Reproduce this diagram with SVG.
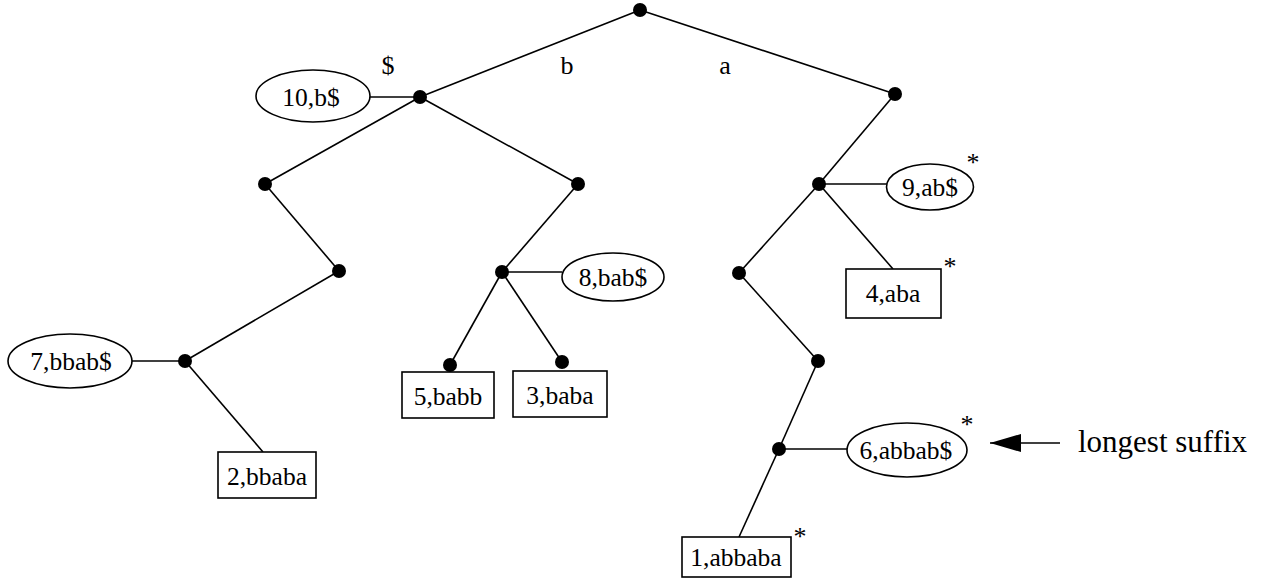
<svg xmlns="http://www.w3.org/2000/svg" width="1263" height="581" viewBox="0 0 1263 581">
<style>
.e{stroke:#000;stroke-width:1.6;fill:none}
.d{fill:#000}
.s{fill:#fff;stroke:#000;stroke-width:1.6}
.t{font-family:"Liberation Serif","Times New Roman",serif;font-size:25.5px;fill:#000;text-anchor:middle}
.a{font-family:"Liberation Serif","Times New Roman",serif;font-size:26px;fill:#000;text-anchor:middle}
.l{font-family:"Liberation Serif","Times New Roman",serif;font-size:26px;fill:#000;text-anchor:middle}
</style>
<defs>
<marker id="ah" markerWidth="32" markerHeight="18" refX="31" refY="9" orient="auto" markerUnits="userSpaceOnUse">
<path d="M0,0 L31,9 L0,18 Z" fill="#000"/>
</marker>
</defs>
<rect width="1263" height="581" fill="#fff"/>
<g id="connectors">
<line class="e" x1="640" y1="10" x2="420" y2="97"/>
<line class="e" x1="640" y1="10" x2="895" y2="94"/>
<line class="e" x1="420" y1="97" x2="265" y2="184"/>
<line class="e" x1="420" y1="97" x2="578" y2="184"/>
<line class="e" x1="420" y1="97" x2="370" y2="97"/>
<line class="e" x1="265" y1="184" x2="339" y2="271"/>
<line class="e" x1="339" y1="271" x2="185" y2="361"/>
<line class="e" x1="185" y1="361" x2="132" y2="361"/>
<line class="e" x1="185" y1="361" x2="263" y2="452"/>
<line class="e" x1="578" y1="184" x2="502" y2="272"/>
<line class="e" x1="502" y1="272" x2="562" y2="272"/>
<line class="e" x1="502" y1="272" x2="450" y2="365"/>
<line class="e" x1="502" y1="272" x2="562" y2="362"/>
<line class="e" x1="895" y1="94" x2="819" y2="184"/>
<line class="e" x1="819" y1="184" x2="887" y2="184"/>
<line class="e" x1="819" y1="184" x2="893" y2="269"/>
<line class="e" x1="819" y1="184" x2="739" y2="273"/>
<line class="e" x1="739" y1="273" x2="818" y2="361"/>
<line class="e" x1="818" y1="361" x2="779" y2="449"/>
<line class="e" x1="779" y1="449" x2="847" y2="449"/>
<line class="e" x1="779" y1="449" x2="739" y2="537"/>
<line class="e" x1="1060" y1="443" x2="990" y2="443" marker-end="url(#ah)"/>
</g>
<g id="edge-labels">
<text class="l" x="388" y="74">$</text>
<text class="l" x="567" y="74">b</text>
<text class="l" x="725" y="74">a</text>
</g>
<g id="n-root"><circle class="d" cx="640" cy="10" r="7"/></g>
<g id="n-b"><circle class="d" cx="420" cy="97" r="7"/></g>
<g id="n-a"><circle class="d" cx="895" cy="94" r="7"/></g>
<g id="n-L1"><circle class="d" cx="265" cy="184" r="7"/></g>
<g id="n-L2"><circle class="d" cx="339" cy="271" r="7"/></g>
<g id="n-L3"><circle class="d" cx="185" cy="361" r="7"/></g>
<g id="n-M1"><circle class="d" cx="578" cy="184" r="7"/></g>
<g id="n-M2"><circle class="d" cx="502" cy="272" r="7"/></g>
<g id="n-R1"><circle class="d" cx="819" cy="184" r="7"/></g>
<g id="n-R2"><circle class="d" cx="739" cy="273" r="7"/></g>
<g id="n-R3"><circle class="d" cx="818" cy="361" r="7"/></g>
<g id="n-R4"><circle class="d" cx="779" cy="449" r="7"/></g>
<g id="leaf-10"><ellipse class="s" cx="313" cy="96" rx="57" ry="26"/><text class="t" x="311" y="106">10,b$</text></g>
<g id="leaf-7"><ellipse class="s" cx="70" cy="361" rx="62" ry="27"/><text class="t" x="71" y="370">7,bbab$</text></g>
<g id="leaf-2"><rect class="s" x="218" y="452" width="98" height="46"/><text class="t" x="267" y="485">2,bbaba</text></g>
<g id="leaf-8"><ellipse class="s" cx="613" cy="277" rx="51" ry="24"/><text class="t" x="613" y="286">8,bab$</text></g>
<g id="leaf-5"><rect class="s" x="402" y="372" width="92" height="46"/><text class="t" x="448" y="405">5,babb</text><circle class="d" cx="450" cy="365" r="7"/></g>
<g id="leaf-3"><rect class="s" x="513" y="371" width="94" height="46"/><text class="t" x="560" y="404">3,baba</text><circle class="d" cx="562" cy="362" r="7"/></g>
<g id="leaf-9"><ellipse class="s" cx="930" cy="187" rx="43.5" ry="23"/><text class="t" x="930" y="196">9,ab$</text><text class="a" x="973" y="171">*</text></g>
<g id="leaf-4"><rect class="s" x="846" y="269" width="95" height="49"/><text class="t" x="893" y="302">4,aba</text><text class="a" x="950" y="275">*</text></g>
<g id="leaf-6"><ellipse class="s" cx="907" cy="450" rx="60" ry="27"/><text class="t" x="906" y="459">6,abbab$</text><text class="a" x="967" y="433">*</text></g>
<g id="leaf-1"><rect class="s" x="682" y="537" width="109" height="40"/><text class="t" x="736" y="566">1,abbaba</text><text class="a" x="800" y="545">*</text></g>
<g id="note"><text font-family="Liberation Serif, Times New Roman, serif" font-size="31" x="1078" y="452">longest suffix</text></g>
</svg>
